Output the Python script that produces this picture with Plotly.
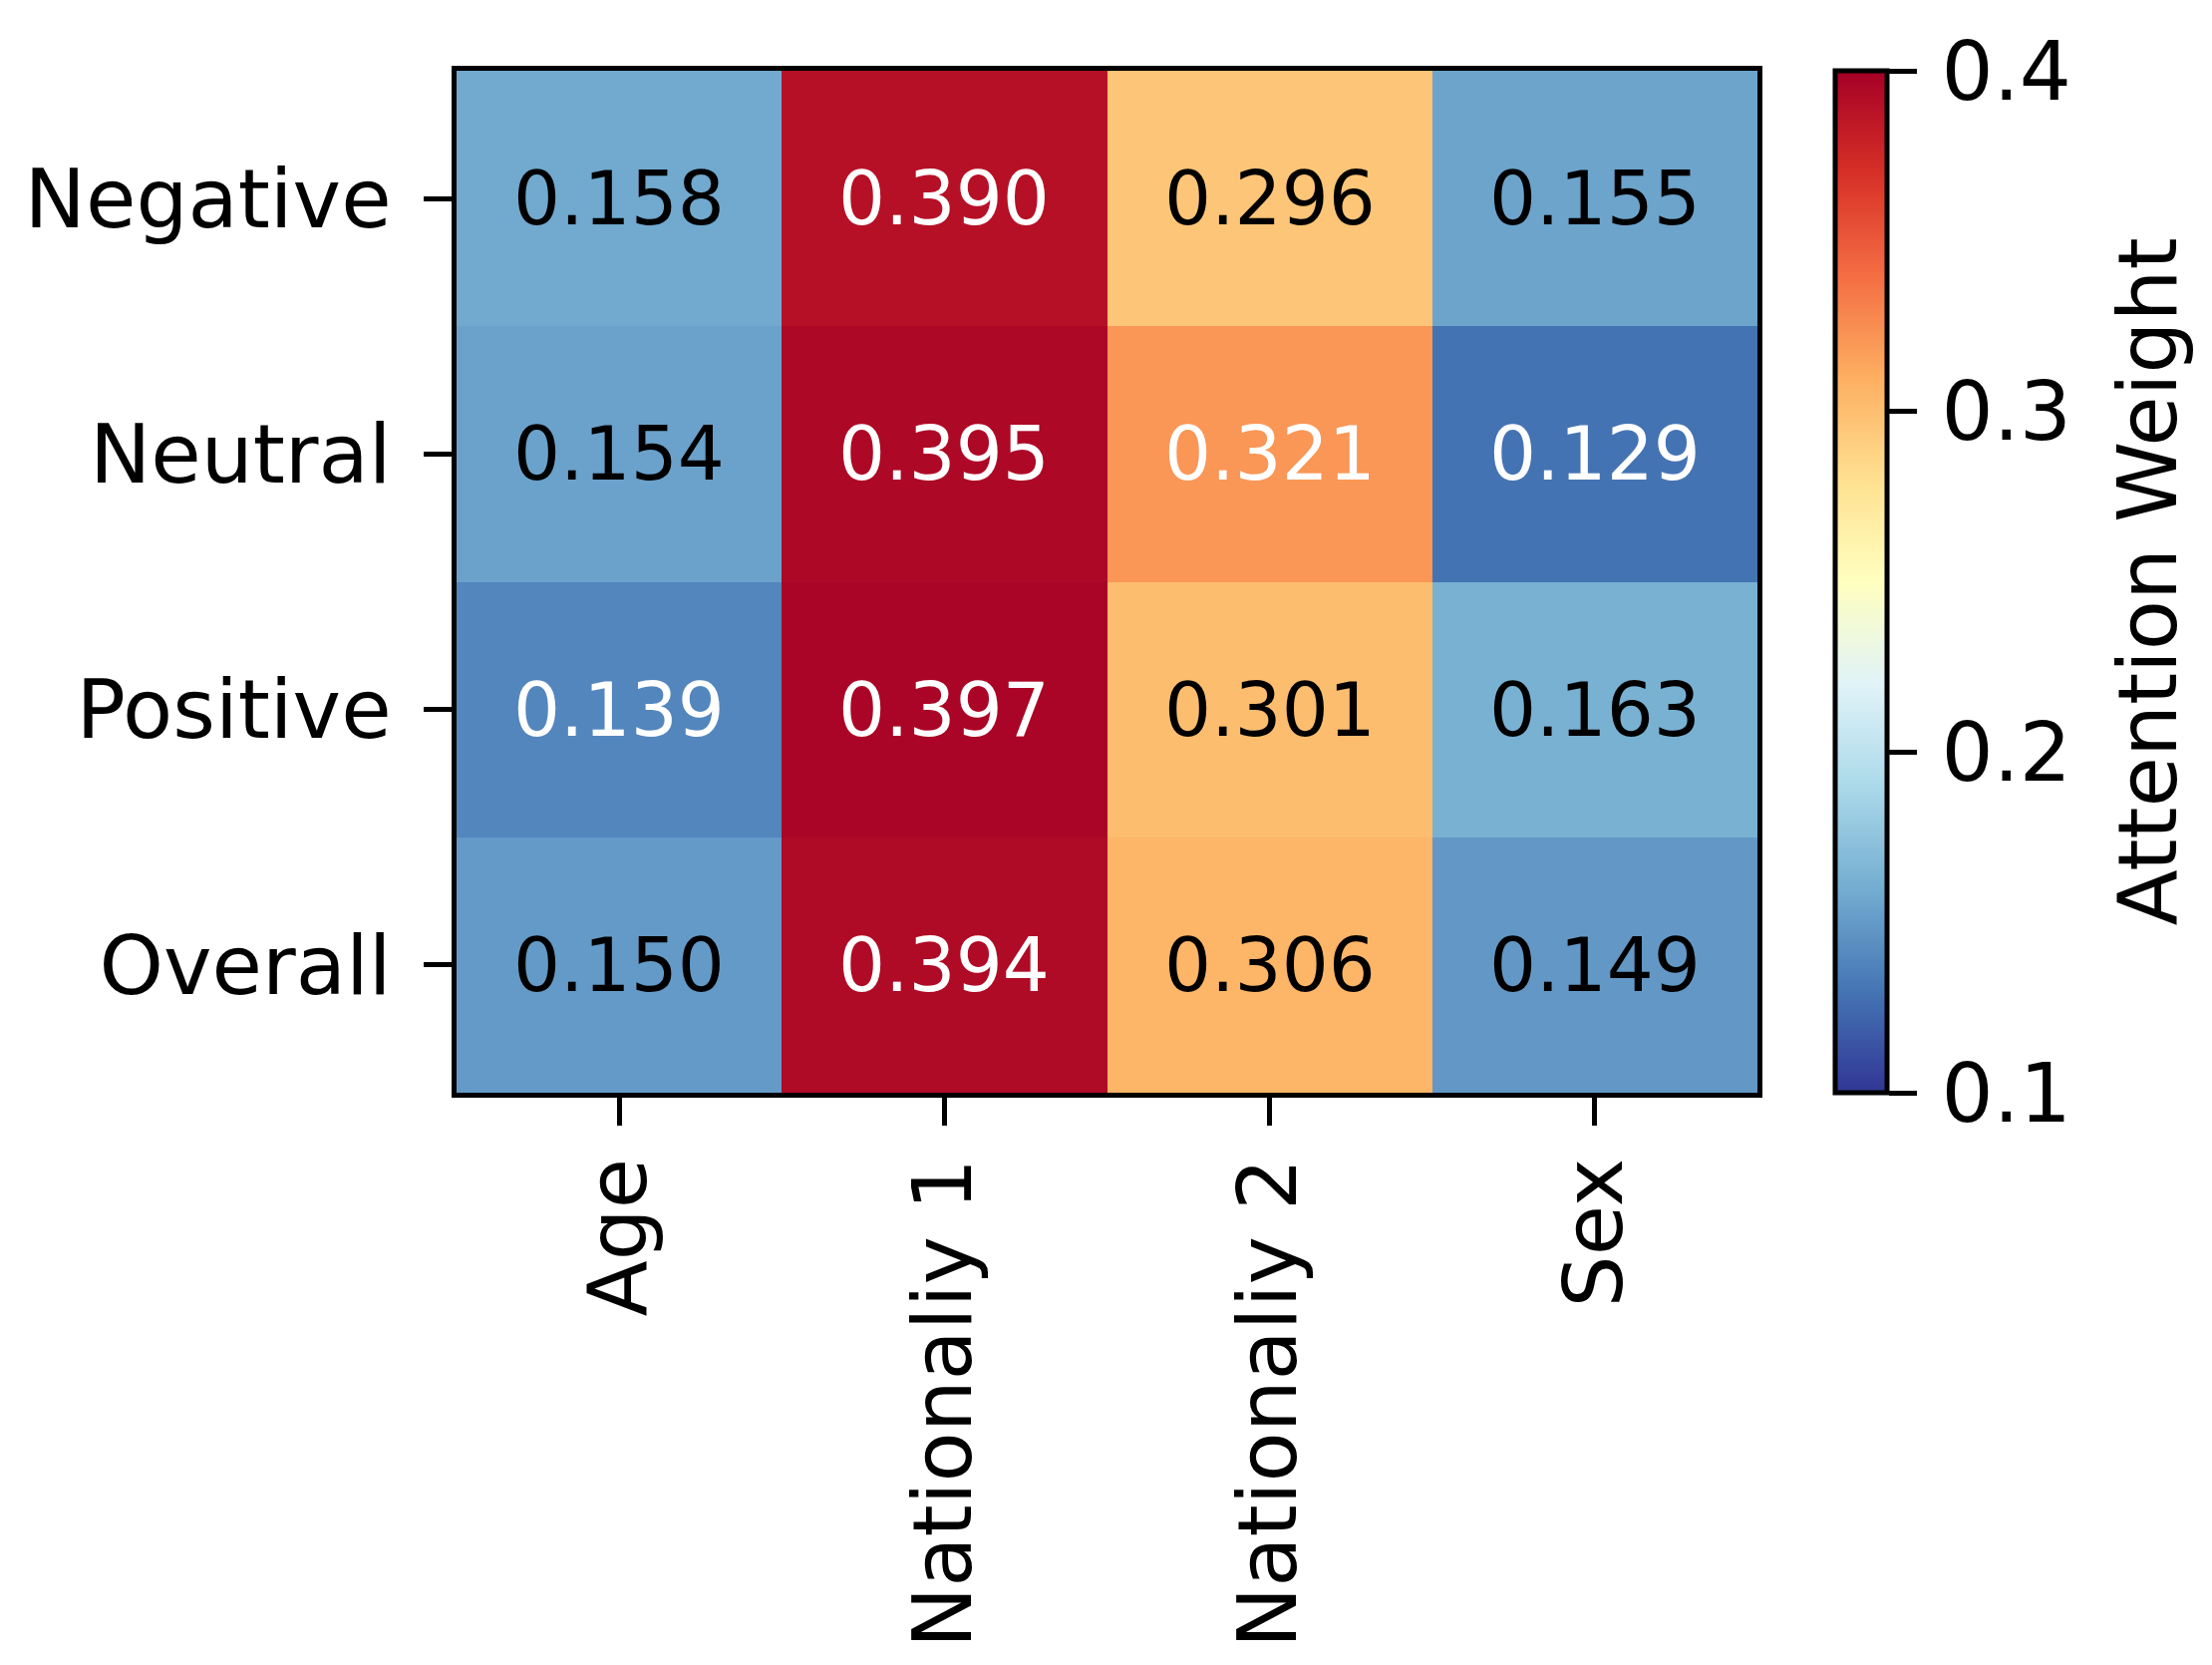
import plotly.graph_objects as go

# attention weights per sentiment group (rows) and attribute (columns)
features = ['Age', 'Nationaliy 1', 'Nationaliy 2', 'Sex']
groups = ['Negative', 'Neutral', 'Positive', 'Overall']
negative = [0.158, 0.390, 0.296, 0.155]
neutral = [0.154, 0.395, 0.321, 0.129]
positive = [0.139, 0.397, 0.301, 0.163]
overall = [0.150, 0.394, 0.306, 0.149]
cbar_ticks = [0.1, 0.2, 0.3, 0.4]

z = [negative, neutral, positive, overall]

W, H = 2219, 1670
L, R, T, B = 450, 2219 - 1755, 63, 1670 - 1088
PW = W - L - R
FONT = 'DejaVu Sans'

fig = go.Figure(go.Heatmap(
    z=z, x=features, y=groups,
    colorscale='RdYlBu_r', zmin=0.1, zmax=0.4,
    xgap=0, ygap=0,
    colorbar=dict(
        x=(1833 - L) / PW, xanchor='left', xpad=0,
        y=0.5, yanchor='middle', len=1, lenmode='fraction', ypad=0,
        thickness=52, outlinewidth=5, outlinecolor='black',
        # hair space nudges the labels a little off the ticks
        tickvals=cbar_ticks, ticktext=['\u200a' + str(t) for t in cbar_ticks],
        ticks='outside', ticklen=28, tickwidth=5, tickcolor='black',
        tickfont=dict(family=FONT, size=82, color='black'),
    ),
    hoverinfo='skip',
))

# colorbar label placed by hand to sit where the reference has it
fig.add_annotation(x=(2146 - L) / PW, y=0.5, xref='paper', yref='paper',
                   text='Attention Weight', textangle=-90, showarrow=False,
                   xanchor='center', yanchor='middle',
                   font=dict(family=FONT, size=82, color='black'))

# cell values, white text on the saturated ends of the map
for gi, g in enumerate(groups):
    for fi, f in enumerate(features):
        v = z[gi][fi]
        col = 'white' if (v > 0.31 or v < 0.145) else 'black'
        fig.add_annotation(x=f, y=g, text=f'{v:.3f}', showarrow=False,
                           font=dict(family=FONT, size=74, color=col))

fig.update_xaxes(
    showline=True, linewidth=5, linecolor='black', mirror=True,
    ticks='outside', ticklen=28, tickwidth=5, tickcolor='black',
    tickangle=-90, tickfont=dict(family=FONT, size=82, color='black'),
    showgrid=False, zeroline=False,
)
fig.update_yaxes(
    autorange='reversed',
    showline=True, linewidth=5, linecolor='black', mirror=True,
    ticks='outside', ticklen=28, tickwidth=5, tickcolor='black',
    ticklabelstandoff=16,
    tickfont=dict(family=FONT, size=82, color='black'),
    showgrid=False, zeroline=False,
)

fig.update_layout(
    width=W, height=H,
    margin=dict(l=L, r=R, t=T, b=B, pad=0),
    plot_bgcolor='white', paper_bgcolor='white',
    font=dict(family=FONT, color='black'),
)

fig.write_html('out.html')
